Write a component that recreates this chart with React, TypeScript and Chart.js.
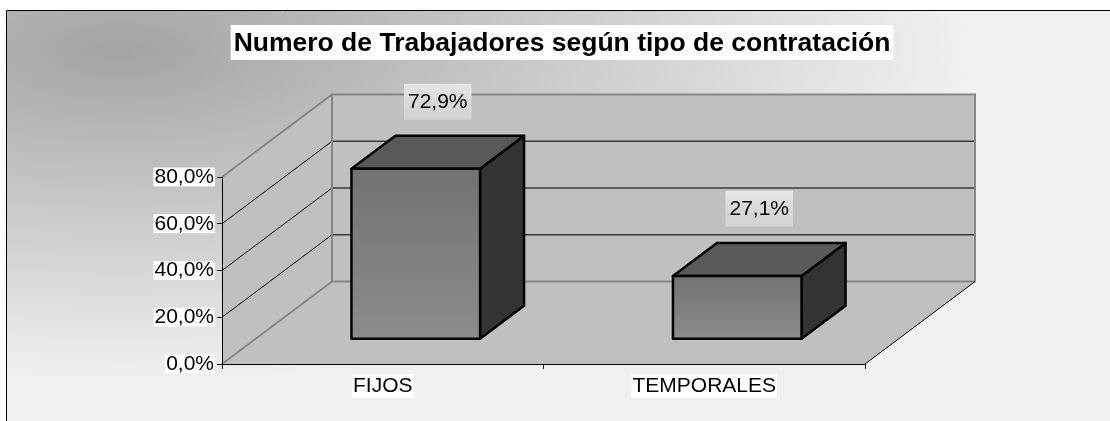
import React, { useEffect, useRef } from "react";
import { Chart, registerables } from "chart.js";

Chart.register(...registerables);

// ---- data ----
const TITLE = "Numero de Trabajadores según tipo de contratación";
const CATEGORIES = ["FIJOS", "TEMPORALES"];
const VALUES = [0.729, 0.271];
const Y_MIN = 0;
const Y_MAX = 0.8;
const Y_STEP = 0.2;

const fmt = (v: number) => (v * 100).toFixed(1).replace(".", ",") + "%";

// ---- style ----
const FONT = "'Liberation Sans', Arial, Helvetica, sans-serif";
const DX = 110; // depth vector of the 3D box
const DY = -82.5;
const W = 1110;
const H = 421;

function poly(ctx: CanvasRenderingContext2D, pts: number[][], fill?: any, stroke?: string, lw = 1) {
  ctx.beginPath();
  ctx.moveTo(pts[0][0], pts[0][1]);
  for (let i = 1; i < pts.length; i++) ctx.lineTo(pts[i][0], pts[i][1]);
  ctx.closePath();
  if (fill) {
    ctx.fillStyle = fill;
    ctx.fill();
  }
  if (stroke) {
    ctx.strokeStyle = stroke;
    ctx.lineWidth = lw;
    ctx.stroke();
  }
}

function line(ctx: CanvasRenderingContext2D, x1: number, y1: number, x2: number, y2: number, color: string, lw: number) {
  ctx.beginPath();
  ctx.moveTo(x1, y1);
  ctx.lineTo(x2, y2);
  ctx.strokeStyle = color;
  ctx.lineWidth = lw;
  ctx.stroke();
}

const excel3d = {
  id: "excel3d",
  beforeDraw(chart: any) {
    const ctx: CanvasRenderingContext2D = chart.ctx;
    const { left, right } = chart.chartArea;
    const ys = chart.scales.y;
    ctx.save();
    // page
    ctx.fillStyle = "#ffffff";
    ctx.fillRect(0, 0, chart.width, chart.height);
    // chart area gradient
    ctx.save();
    ctx.beginPath();
    ctx.rect(6.5, 10.5, chart.width, chart.height);
    ctx.clip();
    ctx.translate(120, 50);
    ctx.scale(1, 330 / 850);
    const g = ctx.createRadialGradient(0, 0, 0, 0, 0, 850);
    g.addColorStop(0, "#a4a4a4");
    g.addColorStop(1, "#f0f0f0");
    ctx.fillStyle = g;
    ctx.fillRect(-1000, -3000, 4000, 6000);
    ctx.restore();
    // outer border
    ctx.beginPath();
    ctx.moveTo(6.5, chart.height);
    ctx.lineTo(6.5, 10.5);
    ctx.lineTo(chart.width, 10.5);
    ctx.strokeStyle = "#000";
    ctx.lineWidth = 1;
    ctx.stroke();

    // title
    ctx.font = `bold 26.5px ${FONT}`;
    const tw = ctx.measureText(TITLE).width;
    const tcx = 562;
    ctx.fillStyle = "#ffffff";
    ctx.fillRect(tcx - tw / 2 - 3, 25, tw + 6, 35);
    ctx.fillStyle = "#000";
    ctx.textAlign = "center";
    ctx.textBaseline = "alphabetic";
    ctx.fillText(TITLE, tcx, 51);

    // walls
    const yTop = ys.getPixelForValue(Y_MAX);
    const yBot = ys.getPixelForValue(Y_MIN);
    const wall = "#c0c0c0";
    poly(ctx, [[left, yTop], [left + DX, yTop + DY], [left + DX, yBot + DY], [left, yBot]], wall);
    poly(ctx, [[left + DX, yTop + DY], [right + DX, yTop + DY], [right + DX, yBot + DY], [left + DX, yBot + DY]], wall);
    poly(ctx, [[left, yBot], [right, yBot], [right + DX, yBot + DY], [left + DX, yBot + DY]], wall);

    // gridlines
    for (let v = Y_MIN + Y_STEP; v < Y_MAX - 1e-9; v += Y_STEP) {
      const py = ys.getPixelForValue(v);
      line(ctx, left, py, left + DX, py + DY, "#000", 1);
      line(ctx, left + DX, py + DY, right + DX, py + DY, "#3a3a3a", 1.5);
    }
    // wall edges
    const edge = "#868686";
    line(ctx, left, yTop, left + DX, yTop + DY, edge, 2);
    line(ctx, left, yBot, left + DX, yBot + DY, edge, 2);
    ctx.beginPath();
    ctx.moveTo(left + DX, yBot + DY);
    ctx.lineTo(left + DX, yTop + DY);
    ctx.lineTo(right + DX, yTop + DY);
    ctx.lineTo(right + DX, yBot + DY);
    ctx.lineTo(left + DX, yBot + DY);
    ctx.strokeStyle = edge;
    ctx.lineWidth = 2;
    ctx.stroke();
    line(ctx, right, yBot, right + DX, yBot + DY, "#000", 1);
    ctx.restore();
  },
  afterDatasetsDraw(chart: any) {
    const ctx: CanvasRenderingContext2D = chart.ctx;
    const meta = chart.getDatasetMeta(0);
    ctx.save();
    meta.data.forEach((el: any, i: number) => {
      const p = el.getProps(["x", "y", "base", "width"], true);
      const fx0 = p.x - p.width / 2 + 0.3 * DX;
      const fx1 = p.x + p.width / 2 + 0.3 * DX;
      const ft = p.y + 0.3 * DY;
      const fb = p.base + 0.3 * DY;
      const bdx = 0.4 * DX;
      const bdy = 0.4 * DY;
      ctx.lineJoin = "round";
      // side
      poly(ctx, [[fx1, ft], [fx1 + bdx, ft + bdy], [fx1 + bdx, fb + bdy], [fx1, fb]], "#333333", "#000", 2.5);
      // top
      poly(ctx, [[fx0, ft], [fx0 + bdx, ft + bdy], [fx1 + bdx, ft + bdy], [fx1, ft]], "#595959", "#000", 2.5);
      // front
      const g = ctx.createLinearGradient(0, ft, 0, fb);
      g.addColorStop(0, "#727272");
      g.addColorStop(1, "#8c8c8c");
      poly(ctx, [[fx0, ft], [fx1, ft], [fx1, fb], [fx0, fb]], g, "#000", 2.5);

      // data label
      const label = fmt(VALUES[i]);
      ctx.font = `21px ${FONT}`;
      const lw = ctx.measureText(label).width;
      const cx = (fx0 + fx1) / 2 + 0.2 * DX;
      const cy = ft + bdy - 34;
      const lg = ctx.createLinearGradient(0, cy - 18, 0, cy + 18);
      lg.addColorStop(0, "#e6e6e6");
      lg.addColorStop(0.5, "#d8d8d8");
      lg.addColorStop(1, "#d2d2d2");
      ctx.fillStyle = lg;
      ctx.fillRect(cx - lw / 2 - 4, cy - 18, lw + 8, 36);
      ctx.fillStyle = "#000";
      ctx.textAlign = "center";
      ctx.textBaseline = "middle";
      ctx.fillText(label, cx, cy);
    });
    ctx.restore();
  },
};

export default function App() {
  const ref = useRef<HTMLCanvasElement | null>(null);
  useEffect(() => {
    if (!ref.current) return;
    const tickFont = { family: FONT, size: 21 };
    const chart = new Chart(ref.current, {
      type: "bar",
      data: {
        labels: CATEGORIES,
        datasets: [
          {
            label: "Trabajadores",
            data: VALUES,
            backgroundColor: "rgba(0,0,0,0)",
            borderWidth: 0,
            barPercentage: 0.4,
            categoryPercentage: 1,
          },
        ],
      },
      options: {
        responsive: false,
        animation: false,
        devicePixelRatio: 1,
        layout: { padding: { left: 0, top: 177, right: 245, bottom: 0 } },
        plugins: {
          legend: { display: false },
          tooltip: { enabled: false },
          title: { display: false },
        },
        scales: {
          x: {
            type: "category",
            offset: true,
            grid: { display: true, drawOnChartArea: false, drawTicks: true, tickLength: 5, color: "#000", offset: true },
            border: { display: true, color: "#000", width: 1 },
            ticks: {
              font: { ...tickFont, lineHeight: 1.15 },
              color: "#000",
              padding: 5,
              maxRotation: 0,
              showLabelBackdrop: true,
              backdropColor: "#ffffff",
              backdropPadding: { top: 0, bottom: 0, left: 1, right: 1 },
            },
            afterFit: (s: any) => {
              s.height = 57;
            },
          },
          y: {
            type: "linear",
            min: Y_MIN,
            max: Y_MAX,
            grid: { display: true, drawOnChartArea: false, drawTicks: true, tickLength: 5, color: "#000" },
            border: { display: true, color: "#000", width: 1 },
            ticks: {
              stepSize: Y_STEP,
              callback: (v: any) => fmt(Number(v)),
              font: { ...tickFont, lineHeight: 0.9 },
              color: "#000",
              padding: 3,
              showLabelBackdrop: true,
              backdropColor: "#ffffff",
              backdropPadding: { top: 0, bottom: 0, left: 1, right: 1 },
            },
            afterFit: (s: any) => {
              s.width = 222;
            },
          },
        },
      },
      plugins: [excel3d],
    } as any);
    return () => chart.destroy();
  }, []);
  return (
    <div style={{ position: "fixed", left: 0, top: 0, width: W, height: H, overflow: "hidden" }}>
      <canvas ref={ref} width={W} height={H} style={{ display: "block", width: W, height: H }} />
    </div>
  );
}
